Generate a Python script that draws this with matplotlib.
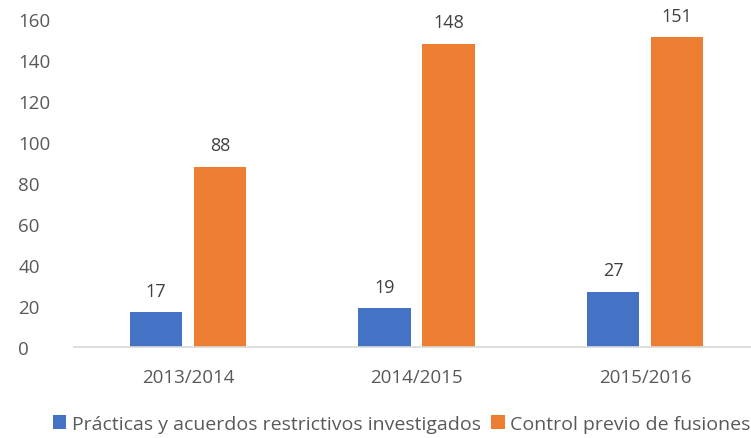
import matplotlib.pyplot as plt
import numpy as np

categories = ['2013/2014', '2014/2015', '2015/2016']
practicas = [17, 19, 27]
control = [88, 148, 151]
series_names = ['Prácticas y acuerdos restrictivos investigados', 'Control previo de fusiones']

plt.rcParams['font.family'] = ['Open Sans', 'DejaVu Sans']
txt = '#595959'

fig = plt.figure(figsize=(7.51, 4.39), dpi=100)
ax = fig.add_axes([73.75 / 751, 1 - 348 / 439, 685.5 / 751, 328 / 439])

x = np.arange(len(categories))
w = 0.228
off = 0.14
b1 = ax.bar(x - off, practicas, w, color='#4472C4', label=series_names[0])
b2 = ax.bar(x + off, control, w, color='#ED7D31', label=series_names[1])

for bars in (b1, b2):
    for r in bars:
        ax.annotate(str(int(r.get_height())), (r.get_x() + r.get_width() / 2, r.get_height()),
                    xytext=(0, 9), textcoords='offset points', ha='center', va='bottom',
                    fontsize=13, color='#404040')

ax.set_xlim(-0.5, 2.5)
ax.set_ylim(0, 160)
ax.set_yticks(np.arange(0, 161, 20))
ax.set_xticks(x)
ax.set_xticklabels(categories)
ax.tick_params(axis='both', length=0, labelsize=13.5, colors=txt)
ax.tick_params(axis='x', pad=15)
ax.tick_params(axis='y', pad=40)
for t in ax.get_yticklabels():
    t.set_horizontalalignment('left')
for s in ['top', 'right', 'left']:
    ax.spines[s].set_visible(False)
ax.spines['bottom'].set_color('#D9D9D9')
ax.spines['bottom'].set_linewidth(1.2)

leg = fig.legend(loc='center', bbox_to_anchor=(0.535, 1 - 425 / 439), ncol=2, frameon=False,
                 fontsize=14, handlelength=0.7, handleheight=0.7, handletextpad=0.3,
                 columnspacing=0.5, labelcolor=txt)

fig.savefig('out.png', dpi=100)
